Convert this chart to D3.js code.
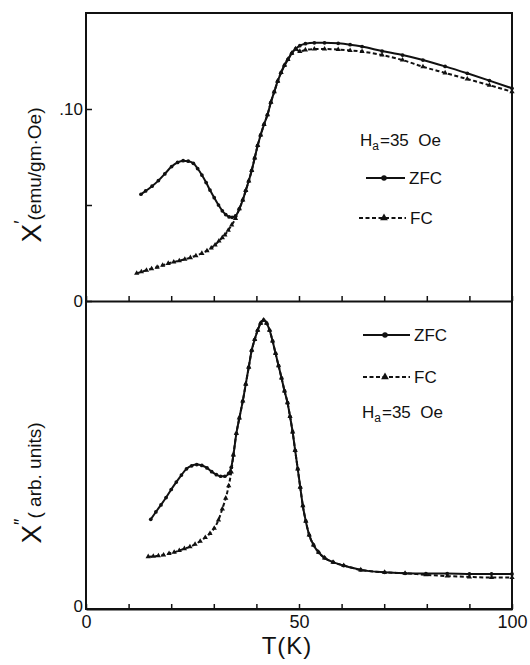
<!DOCTYPE html>
<html>
<head>
<meta charset="utf-8">
<script src="https://cdn.jsdelivr.net/npm/d3@7"></script>
<style>
  body { margin: 0; background: #fff; }
  svg { font-family: 'Liberation Sans', Arial, sans-serif; }
  text { white-space: pre; }
</style>
</head>
<body>
<div id="chart"></div>
<script>
// T (K) and chi' (emu/gm.Oe), upper panel
var chi1ZfcLow = [[12.9,0.0556],[14.0,0.0573],[15.5,0.0598],[17.0,0.0627],[18.5,0.0662],[20.1,0.0700],[21.5,0.0722],
	[22.8,0.0731],[24.0,0.0728],[25.2,0.0717],[26.2,0.0690],[27.2,0.0656],[28.2,0.0617],[29.1,0.0578],[30.1,0.0538],
	[31.1,0.0500],[32.0,0.0470],[32.8,0.0450],[33.6,0.0438],[34.3,0.0436],[35.1,0.0443]];
var chi1FcLow = [[11.9,0.0144],[13.0,0.0152],[14.2,0.0160],[15.4,0.0168],[16.7,0.0176],[18.0,0.0186],[19.3,0.0196],
	[20.6,0.0203],[21.9,0.0210],[23.2,0.0217],[24.5,0.0226],[25.8,0.0236],[27.2,0.0248],[28.4,0.0262],[29.4,0.0276],
	[30.3,0.0292],[31.2,0.0312],[32.0,0.0330],[32.6,0.0344],[33.4,0.0368],[34.2,0.0396],[35.1,0.0430]];
var chi1Rise = [[36.0,0.0480],[36.8,0.0526],[37.5,0.0575],[38.2,0.0625],[38.9,0.0680],[39.6,0.0745],[40.3,0.0810],
	[41.0,0.0865],[41.8,0.0920],[42.6,0.0970],[43.4,0.1035],[44.2,0.1090],[45.0,0.1145],[45.8,0.1190],[46.6,0.1228],
	[47.4,0.1258],[48.3,0.1290],[49.2,0.1313]];
var chi1ZfcHigh = [[50.2,0.1330],[51.5,0.1340],[53.6,0.1345],[56.0,0.1345],[59.2,0.1342],[62.0,0.1335],[64.8,0.1325],
	[69.5,0.1302],[74.3,0.1281],[79.1,0.1255],[84.3,0.1222],[89.5,0.1186],[94.7,0.1148],[100,0.1108]];
var chi1FcHigh = [[50.2,0.1300],[51.5,0.1308],[53.6,0.1312],[56.0,0.1312],[59.2,0.1310],[62.0,0.1305],[64.8,0.1299],
	[69.5,0.1281],[74.3,0.1255],[79.1,0.1220],[84.3,0.1188],[89.5,0.1156],[94.7,0.1124],[100,0.1090]];

// T (K) and chi'' (arb. units), lower panel
var chi2ZfcLow = [[15.2,2.91],[16.4,3.15],[17.6,3.38],[18.8,3.62],[20.0,3.88],[21.2,4.12],[22.4,4.35],[23.6,4.55],
	[24.8,4.65],[26.0,4.69],[27.2,4.66],[28.4,4.58],[29.5,4.46],[30.6,4.36],[31.6,4.31],[32.6,4.31],[33.5,4.40],[34.1,4.60]];
var chi2FcLow = [[14.6,1.70],[15.8,1.71],[17.0,1.73],[18.2,1.75],[19.5,1.80],[20.7,1.84],[21.9,1.90],[23.1,1.96],
	[24.4,2.02],[25.6,2.10],[26.8,2.20],[28.0,2.32],[29.1,2.45],[30.1,2.62],[31.1,2.89],[32.0,3.25],[32.8,3.60],
	[33.5,4.00],[34.1,4.45]];
var chi2Peak = [[34.6,5.00],[35.3,5.70],[36.0,6.20],[36.8,6.75],[37.5,7.30],[38.2,7.85],[38.9,8.40],[39.6,8.75],
	[40.3,9.05],[41.0,9.28],[41.7,9.38],[42.4,9.28],[43.1,9.05],[43.8,8.70],[44.5,8.30],[45.2,7.90],[45.9,7.50],
	[46.6,7.08],[47.3,6.70],[47.9,6.25],[48.5,5.75],[49.1,5.15],[49.7,4.55],[50.3,3.95],[50.9,3.35],[51.6,2.85],
	[52.4,2.40],[53.4,2.08],[54.6,1.84],[56.0,1.66],[58.0,1.52],[60.5,1.41],[64.5,1.27],[70.1,1.19],[74.9,1.16]];
var chi2ZfcHigh = [[79.8,1.15],[84.8,1.15],[90.0,1.14],[95.2,1.14],[100,1.14]];
var chi2FcHigh = [[79.8,1.11],[84.8,1.07],[90.0,1.04],[95.2,1.02],[100,1.02]];

var xTickValues = [0,10,20,30,40,50,60,70,80,90,100];
var xTickLabels = [0,50,100];
var chi1TickValues = [0,0.05,0.10];
var chi1TickLabels = {'0': '0', '0.1': '.10'};

(function(){
	'use strict';

	var width = 530, height = 665;
	var left = 86, right = 512, top = 13, mid = 301, bottom = 609;

	var svg = d3.select('#chart').append('svg')
		.attr('width', width).attr('height', height)
		.style('background', '#fff');

	var x = d3.scaleLinear().domain([0, 100]).range([left, right]);
	var y1 = d3.scaleLinear().domain([0, 0.15]).range([mid, top]);
	var y2 = d3.scaleLinear().domain([0, 10]).range([bottom, mid]);

	// frame
	svg.append('rect').attr('x', left).attr('y', top)
		.attr('width', right - left).attr('height', bottom - top)
		.attr('fill', 'none').attr('stroke', '#111').attr('stroke-width', 2);

	// shared x ticks on middle line and bottom line
	function xTicks(ypos, labels) {
		var ax = d3.axisBottom(x).tickValues(xTickValues)
			.tickSizeInner(-5).tickSizeOuter(0).tickPadding(6)
			.tickFormat(function(d){ return labels && xTickLabels.indexOf(d) >= 0 ? d : ''; });
		var g = svg.append('g').attr('transform', 'translate(0,' + ypos + ')').call(ax);
		g.select('.domain').attr('stroke', '#111').attr('stroke-width', 2);
		g.selectAll('.tick line').attr('stroke', '#111').attr('stroke-width', 1.5);
		g.selectAll('.tick text').attr('font-size', 18).attr('fill', '#111')
			.attr('font-family', 'Liberation Sans, Arial, sans-serif');
		return g;
	}
	xTicks(mid, false);
	xTicks(bottom, true);

	// y ticks of the upper panel
	var ay = d3.axisLeft(y1).tickValues(chi1TickValues)
		.tickSizeInner(-6).tickSizeOuter(0).tickPadding(3)
		.tickFormat(function(d){ return chi1TickLabels[String(+d.toFixed(2))] || ''; });
	var gy = svg.append('g').attr('transform', 'translate(' + left + ',0)').call(ay);
	gy.select('.domain').remove();
	gy.selectAll('.tick line').attr('stroke', '#111').attr('stroke-width', 1.5);
	gy.selectAll('.tick text').attr('font-size', 17).attr('fill', '#111')
		.attr('font-family', 'Liberation Sans, Arial, sans-serif');

	// zero of lower panel
	var ay2 = d3.axisLeft(y2).tickValues([0]).tickSize(0).tickPadding(3).tickFormat(function(){ return '0'; });
	var gy2 = svg.append('g').attr('transform', 'translate(' + left + ',-3)').call(ay2);
	gy2.select('.domain').remove();
	gy2.selectAll('.tick text').attr('font-size', 17).attr('fill', '#111')
		.attr('font-family', 'Liberation Sans, Arial, sans-serif');

	// curves
	function drawSeries(data, yscale, dashed, marker) {
		var line = d3.line().x(function(d){ return x(d[0]); }).y(function(d){ return yscale(d[1]); })
			.curve(d3.curveMonotoneX);
		svg.append('path').datum(data).attr('d', line)
			.attr('fill', 'none').attr('stroke', '#111').attr('stroke-width', 2)
			.attr('stroke-dasharray', dashed ? '4,2.5' : null);
		var sym = d3.symbol().type(marker === 'tri' ? d3.symbolTriangle : d3.symbolCircle)
			.size(marker === 'tri' ? 12 : 11);
		svg.append('g').selectAll('path').data(data).enter().append('path')
			.attr('d', sym)
			.attr('transform', function(d){ return 'translate(' + x(d[0]) + ',' + yscale(d[1]) + ')'; })
			.attr('fill', '#111');
	}

	drawSeries(chi1FcLow.concat(chi1Rise, chi1FcHigh), y1, true, 'tri');
	drawSeries(chi1ZfcLow.concat(chi1Rise, chi1ZfcHigh), y1, false, 'dot');
	drawSeries(chi2FcLow.concat(chi2Peak, chi2FcHigh), y2, true, 'tri');
	drawSeries(chi2ZfcLow.concat(chi2Peak, chi2ZfcHigh), y2, false, 'dot');

	// legends
	function legendRow(x0, x1, xm, yy, dashed, marker, label) {
		svg.append('line').attr('x1', x0).attr('x2', x1).attr('y1', yy).attr('y2', yy)
			.attr('stroke', '#111').attr('stroke-width', 1.8)
			.attr('stroke-dasharray', dashed ? '4,2.5' : null);
		var sym = d3.symbol().type(marker === 'tri' ? d3.symbolTriangle : d3.symbolCircle)
			.size(marker === 'tri' ? 26 : 24);
		svg.append('path').attr('d', sym).attr('transform', 'translate(' + xm + ',' + yy + ')').attr('fill', '#111');
		svg.append('text').attr('x', x1 + 4).attr('y', yy + 6).attr('font-size', 17).attr('fill', '#111').text(label);
	}
	function fieldLabel(x0, yb) {
		var t = svg.append('text').attr('x', x0).attr('y', yb).attr('font-size', 17).attr('fill', '#111');
		t.append('tspan').text('H');
		t.append('tspan').attr('font-size', 12).attr('dy', 4).text('a');
		t.append('tspan').attr('dy', -4).attr('dx', 1).text('=35  Oe');
	}

	fieldLabel(360, 146);
	legendRow(366, 405, 384, 178, false, 'dot', 'ZFC');
	legendRow(359, 406, 384, 218, true, 'tri', 'FC');

	legendRow(363, 410, 385, 335, false, 'dot', 'ZFC');
	legendRow(363, 410, 385, 377, true, 'tri', 'FC');
	fieldLabel(362, 418);

	// axis titles
	svg.append('text').attr('x', 287).attr('y', 654).attr('text-anchor', 'middle')
		.attr('font-size', 24).attr('letter-spacing', 1).attr('fill', '#111').text('T(K)');

	var t1 = svg.append('text').attr('transform', 'translate(41,175) rotate(-90)')
		.attr('text-anchor', 'middle').attr('fill', '#111').attr('font-size', 19);
	t1.append('tspan').attr('font-size', 28).text('X');
	t1.append('tspan').attr('font-size', 18).attr('dy', -14).text('\u2032');
	t1.append('tspan').attr('dy', 14).text('(emu/gm\u00b7Oe)');

	var t2 = svg.append('text').attr('transform', 'translate(41,483) rotate(-90)')
		.attr('text-anchor', 'middle').attr('fill', '#111').attr('font-size', 19);
	t2.append('tspan').attr('font-size', 28).text('X');
	t2.append('tspan').attr('font-size', 18).attr('dy', -14).text('\u2033');
	t2.append('tspan').attr('dy', 14).text('( arb. units)');
})();
</script>
</body>
</html>
